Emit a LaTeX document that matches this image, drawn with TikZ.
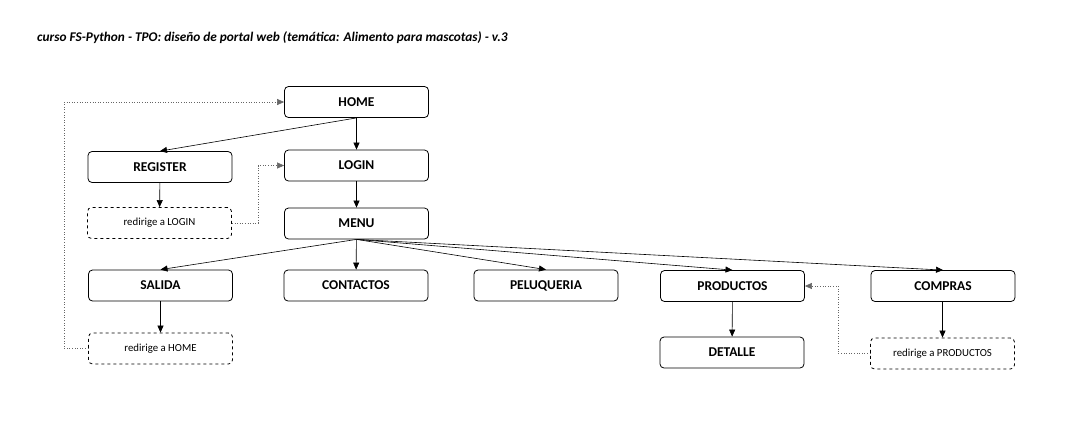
\documentclass[tikz,border=0pt]{standalone}
\usepackage{fontspec}
\setmainfont{Carlito}
\usetikzlibrary{positioning,arrows.meta}

\begin{document}
\begin{tikzpicture}[
  x=1pt, y=-1pt,
  font=\fontsize{13.5}{15}\selectfont\bfseries,
  page/.style={draw, rounded corners=4pt, minimum width=144pt, minimum height=31pt,
               line width=0.8pt, inner sep=0pt},
  redir/.style={page, dashed, font=\fontsize{10.8}{12}\selectfont},
  link/.style={-{Triangle[length=7pt,width=6pt]}, line width=0.6pt},
  back/.style={link, dotted, black!60}
]
\useasboundingbox (0,0) rectangle (1068,421);

% title
\node[anchor=west, inner sep=0pt, font=\fontsize{13.3}{15}\selectfont\bfseries\itshape] (title) at (37,38)
  {curso FS-Python - TPO: diseño de portal web (temática: Alimento para mascotas) - v.3};

% main column
\node[page] (home)  at (356.5,102)   {HOME};
\node[page] (login) at (356.5,165.5) {LOGIN};
\node[page] (menu)  at (356.5,223.5) {MENU};

% register branch
\node[page]  (register) at (160,167)   {REGISTER};
\node[redir] (toLogin)  at (159.5,223) {redirige a LOGIN};

% menu entries
\node[page] (salida)     at (160.5,285.5) {SALIDA};
\node[page] (contactos)  at (356,285.5)   {CONTACTOS};
\node[page] (peluqueria) at (546,285.5)   {PELUQUERIA};
\node[page] (productos)  at (732.5,286)   {PRODUCTOS};
\node[page] (compras)    at (943,286)     {COMPRAS};

% second level
\node[redir] (toHome)      at (160.5,348.5) {redirige a HOME};
\node[page]  (detalle)     at (732,352.5)   {DETALLE};
\node[redir] (toProductos) at (942.5,353.5) {redirige a PRODUCTOS};

% edges
\draw[link] (home.south) -- (register.north);
\draw[link] (home) -- (login);
\draw[link] (register) -- (toLogin);
\draw[link] (login) -- (menu);
\draw[link] (menu.south) -- (salida.north);
\draw[link] (menu) -- (contactos);
\draw[link] (menu.south) -- (peluqueria.north);
\draw[link] (menu.south) -- (productos.north);
\draw[link] (menu.south) -- (compras.north);
\draw[link] (salida) -- (toHome);
\draw[link] (productos) -- (detalle);
\draw[link] (compras.south -| toProductos.north) -- (toProductos.north);

% redirects
\draw[back] (toLogin.east) -| ++(26,0) |- (login.west);
\draw[back] (toHome.west) -- ++(-24,0) |- (home.west);
\draw[back] (toProductos.west) -- ++(-32,0) |- (productos.east);
\end{tikzpicture}
\end{document}
